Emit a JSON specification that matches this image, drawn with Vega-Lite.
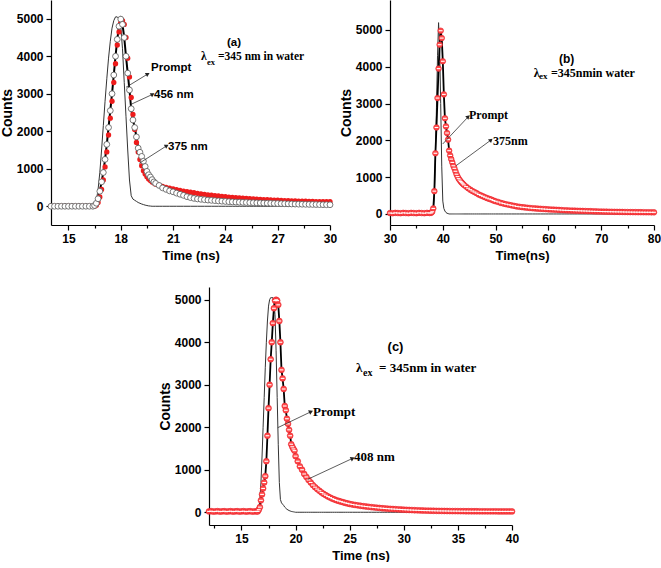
{
  "$schema": "https://vega.github.io/schema/vega-lite/v6.json",
  "background": "white",
  "padding": {"left": 0, "top": 0, "right": 0, "bottom": 0},
  "spacing": 25,
  "config": {
    "view": {"stroke": null},
    "font": "Liberation Sans",
    "axis": {
      "labelFont": "Liberation Sans", "labelFontSize": 12, "labelFontWeight": "bold", "labelColor": "black",
      "titleFont": "Liberation Sans", "titleFontSize": 13, "titleFontWeight": "bold", "titleColor": "black",
      "domainColor": "black", "domainWidth": 1.2, "tickColor": "black", "tickWidth": 1.2,
      "grid": false, "labelFlush": false, "labelOverlap": false, "labelPadding": 3, "titlePadding": 5, "format": "d"
    },
    "axisY": {"titleFontSize": 14, "titlePadding": 2}
  },
  "datasets": {
    "a": [
      {"t":14.0,"prompt":0,"nm456":0,"nm375":0},{"t":14.2,"prompt":0,"nm456":0,"nm375":0},{"t":14.4,"prompt":0,"nm456":0,"nm375":0},
      {"t":14.6,"prompt":0,"nm456":0,"nm375":0},{"t":14.8,"prompt":0,"nm456":0,"nm375":0},{"t":15.0,"prompt":0,"nm456":0,"nm375":0},
      {"t":15.2,"prompt":0,"nm456":0,"nm375":0},{"t":15.4,"prompt":0,"nm456":0,"nm375":0},{"t":15.6,"prompt":0,"nm456":0,"nm375":0},
      {"t":15.8,"prompt":0,"nm456":0,"nm375":0},{"t":16.0,"prompt":0,"nm456":0,"nm375":0},{"t":16.2,"prompt":0,"nm456":0,"nm375":0},
      {"t":16.4,"prompt":0,"nm456":0,"nm375":0},{"t":16.5,"prompt":30,"nm456":20,"nm375":0},{"t":16.6,"prompt":150,"nm456":80,"nm375":30},
      {"t":16.7,"prompt":450,"nm456":200,"nm375":100},{"t":16.8,"prompt":900,"nm456":400,"nm375":250},{"t":16.9,"prompt":1500,"nm456":650,"nm375":450},
      {"t":17.0,"prompt":2150,"nm456":900,"nm375":700},{"t":17.1,"prompt":2800,"nm456":1250,"nm375":1050},{"t":17.2,"prompt":3400,"nm456":1650,"nm375":1450},
      {"t":17.3,"prompt":3950,"nm456":2100,"nm375":1900},{"t":17.4,"prompt":4400,"nm456":2550,"nm375":2350},{"t":17.5,"prompt":4750,"nm456":3000,"nm375":2800},
      {"t":17.6,"prompt":4950,"nm456":3500,"nm375":3300},{"t":17.7,"prompt":5050,"nm456":4000,"nm375":3800},{"t":17.8,"prompt":5050,"nm456":4450,"nm375":4300},
      {"t":17.9,"prompt":5000,"nm456":4800,"nm375":4650},{"t":18.0,"prompt":4800,"nm456":4990,"nm375":4900},{"t":18.1,"prompt":4200,"nm456":4850,"nm375":4950},
      {"t":18.2,"prompt":3300,"nm456":4500,"nm375":4850},{"t":18.3,"prompt":2400,"nm456":4000,"nm375":4500},{"t":18.4,"prompt":1500,"nm456":3550,"nm375":3950},
      {"t":18.5,"prompt":700,"nm456":3100,"nm375":3450},{"t":18.6,"prompt":280,"nm456":2600,"nm375":2900},{"t":18.7,"prompt":190,"nm456":2300,"nm375":2450},
      {"t":18.8,"prompt":160,"nm456":2100,"nm375":2050},{"t":18.9,"prompt":130,"nm456":1850,"nm375":1700},{"t":19.0,"prompt":100,"nm456":1550,"nm375":1450},
      {"t":19.1,"prompt":80,"nm456":1440,"nm375":1250},{"t":19.2,"prompt":60,"nm456":1330,"nm375":1080},{"t":19.3,"prompt":45,"nm456":1200,"nm375":950},
      {"t":19.4,"prompt":30,"nm456":1060,"nm375":860},{"t":19.5,"prompt":20,"nm456":930,"nm375":790},{"t":19.6,"prompt":10,"nm456":840,"nm375":730},
      {"t":19.7,"prompt":5,"nm456":780,"nm375":690},{"t":19.8,"prompt":0,"nm456":710,"nm375":650},{"t":19.9,"prompt":0,"nm456":650,"nm375":620},
      {"t":20.0,"prompt":0,"nm456":610,"nm375":590},{"t":20.2,"prompt":0,"nm456":555,"nm375":560},{"t":20.4,"prompt":0,"nm456":490,"nm375":530},
      {"t":20.6,"prompt":0,"nm456":450,"nm375":505},{"t":20.8,"prompt":0,"nm456":410,"nm375":480},{"t":21.0,"prompt":0,"nm456":385,"nm375":460},
      {"t":21.2,"prompt":0,"nm456":350,"nm375":440},{"t":21.4,"prompt":0,"nm456":320,"nm375":420},{"t":21.6,"prompt":0,"nm456":290,"nm375":405},
      {"t":21.8,"prompt":0,"nm456":255,"nm375":390},{"t":22.0,"prompt":0,"nm456":230,"nm375":375},{"t":22.2,"prompt":0,"nm456":210,"nm375":360},
      {"t":22.4,"prompt":0,"nm456":195,"nm375":345},{"t":22.6,"prompt":0,"nm456":185,"nm375":330},{"t":22.8,"prompt":0,"nm456":175,"nm375":318},
      {"t":23.0,"prompt":0,"nm456":165,"nm375":305},{"t":23.2,"prompt":0,"nm456":158,"nm375":295},{"t":23.4,"prompt":0,"nm456":150,"nm375":285},
      {"t":23.6,"prompt":0,"nm456":142,"nm375":275},{"t":23.8,"prompt":0,"nm456":135,"nm375":265},{"t":24.0,"prompt":0,"nm456":128,"nm375":255},
      {"t":24.2,"prompt":0,"nm456":122,"nm375":246},{"t":24.4,"prompt":0,"nm456":117,"nm375":238},{"t":24.6,"prompt":0,"nm456":112,"nm375":230},
      {"t":24.8,"prompt":0,"nm456":108,"nm375":222},{"t":25.0,"prompt":0,"nm456":104,"nm375":215},{"t":25.2,"prompt":0,"nm456":100,"nm375":208},
      {"t":25.4,"prompt":0,"nm456":97,"nm375":201},{"t":25.6,"prompt":0,"nm456":94,"nm375":195},{"t":25.8,"prompt":0,"nm456":91,"nm375":189},
      {"t":26.0,"prompt":0,"nm456":88,"nm375":183},{"t":26.2,"prompt":0,"nm456":85,"nm375":178},{"t":26.4,"prompt":0,"nm456":82,"nm375":173},
      {"t":26.6,"prompt":0,"nm456":79,"nm375":168},{"t":26.8,"prompt":0,"nm456":76,"nm375":164},{"t":27.0,"prompt":0,"nm456":73,"nm375":160},
      {"t":27.2,"prompt":0,"nm456":70,"nm375":156},{"t":27.4,"prompt":0,"nm456":67,"nm375":152},{"t":27.6,"prompt":0,"nm456":64,"nm375":148},
      {"t":27.8,"prompt":0,"nm456":61,"nm375":145},{"t":28.0,"prompt":0,"nm456":58,"nm375":142},{"t":28.2,"prompt":0,"nm456":56,"nm375":139},
      {"t":28.4,"prompt":0,"nm456":54,"nm375":136},{"t":28.6,"prompt":0,"nm456":52,"nm375":133},{"t":28.8,"prompt":0,"nm456":50,"nm375":130},
      {"t":29.0,"prompt":0,"nm456":48,"nm375":128},{"t":29.2,"prompt":0,"nm456":46,"nm375":126},{"t":29.4,"prompt":0,"nm456":44,"nm375":124},
      {"t":29.6,"prompt":0,"nm456":42,"nm375":122},{"t":29.8,"prompt":0,"nm456":41,"nm375":121},{"t":30.0,"prompt":0,"nm456":40,"nm375":120}
    ],
    "b": [
      {"t":30.0,"prompt":0,"nm375":25},{"t":30.5,"prompt":0,"nm375":20},{"t":31.0,"prompt":0,"nm375":30},{"t":31.5,"prompt":0,"nm375":25},
      {"t":32.0,"prompt":0,"nm375":20},{"t":32.5,"prompt":0,"nm375":30},{"t":33.0,"prompt":0,"nm375":25},{"t":33.5,"prompt":0,"nm375":20},
      {"t":34.0,"prompt":0,"nm375":30},{"t":34.5,"prompt":0,"nm375":25},{"t":35.0,"prompt":0,"nm375":20},{"t":35.5,"prompt":0,"nm375":30},
      {"t":36.0,"prompt":0,"nm375":25},{"t":36.5,"prompt":0,"nm375":20},{"t":37.0,"prompt":0,"nm375":30},{"t":37.5,"prompt":0,"nm375":25},
      {"t":37.8,"prompt":0,"nm375":30},{"t":38.0,"prompt":10,"nm375":60},{"t":38.2,"prompt":60,"nm375":150},{"t":38.4,"prompt":500,"nm375":620},
      {"t":38.6,"prompt":1600,"nm375":1650},{"t":38.8,"prompt":2900,"nm375":2350},{"t":39.0,"prompt":4300,"nm375":3150},{"t":39.2,"prompt":5200,"nm375":3950},
      {"t":39.4,"prompt":4500,"nm375":4600},{"t":39.6,"prompt":3000,"nm375":4980},{"t":39.8,"prompt":1300,"nm375":4780},{"t":40.0,"prompt":350,"nm375":4150},
      {"t":40.2,"prompt":150,"nm375":3250},{"t":40.4,"prompt":80,"nm375":2600},{"t":40.6,"prompt":40,"nm375":2380},{"t":40.8,"prompt":20,"nm375":2200},
      {"t":41.0,"prompt":10,"nm375":2020},{"t":41.2,"prompt":0,"nm375":1720},{"t":41.4,"prompt":0,"nm375":1590},{"t":41.6,"prompt":0,"nm375":1490},
      {"t":41.8,"prompt":0,"nm375":1400},{"t":42.0,"prompt":0,"nm375":1310},{"t":42.2,"prompt":0,"nm375":1240},{"t":42.4,"prompt":0,"nm375":1160},
      {"t":42.6,"prompt":0,"nm375":1080},{"t":42.8,"prompt":0,"nm375":1015},{"t":43.0,"prompt":0,"nm375":960},{"t":43.2,"prompt":0,"nm375":920},
      {"t":43.4,"prompt":0,"nm375":880},{"t":43.6,"prompt":0,"nm375":850},{"t":43.8,"prompt":0,"nm375":820},{"t":44.0,"prompt":0,"nm375":790},
      {"t":44.4,"prompt":0,"nm375":745},{"t":44.8,"prompt":0,"nm375":700},{"t":45.2,"prompt":0,"nm375":660},{"t":45.6,"prompt":0,"nm375":625},
      {"t":46.0,"prompt":0,"nm375":595},{"t":46.4,"prompt":0,"nm375":565},{"t":46.8,"prompt":0,"nm375":530},{"t":47.2,"prompt":0,"nm375":505},
      {"t":47.6,"prompt":0,"nm375":480},{"t":48.0,"prompt":0,"nm375":455},{"t":48.4,"prompt":0,"nm375":430},{"t":48.8,"prompt":0,"nm375":410},
      {"t":49.2,"prompt":0,"nm375":390},{"t":49.6,"prompt":0,"nm375":365},{"t":50.0,"prompt":0,"nm375":345},{"t":50.5,"prompt":0,"nm375":325},
      {"t":51.0,"prompt":0,"nm375":300},{"t":51.5,"prompt":0,"nm375":282},{"t":52.0,"prompt":0,"nm375":265},{"t":52.5,"prompt":0,"nm375":250},
      {"t":53.0,"prompt":0,"nm375":235},{"t":53.5,"prompt":0,"nm375":220},{"t":54.0,"prompt":0,"nm375":205},{"t":54.5,"prompt":0,"nm375":195},
      {"t":55.0,"prompt":0,"nm375":185},{"t":55.5,"prompt":0,"nm375":178},{"t":56.0,"prompt":0,"nm375":170},{"t":56.5,"prompt":0,"nm375":162},
      {"t":57.0,"prompt":0,"nm375":155},{"t":57.5,"prompt":0,"nm375":150},{"t":58.0,"prompt":0,"nm375":145},{"t":58.5,"prompt":0,"nm375":140},
      {"t":59.0,"prompt":0,"nm375":135},{"t":59.5,"prompt":0,"nm375":130},{"t":60.0,"prompt":0,"nm375":125},{"t":60.5,"prompt":0,"nm375":121},
      {"t":61.0,"prompt":0,"nm375":118},{"t":61.5,"prompt":0,"nm375":114},{"t":62.0,"prompt":0,"nm375":110},{"t":62.5,"prompt":0,"nm375":105},
      {"t":63.0,"prompt":0,"nm375":100},{"t":63.5,"prompt":0,"nm375":98},{"t":64.0,"prompt":0,"nm375":95},{"t":64.5,"prompt":0,"nm375":92},
      {"t":65.0,"prompt":0,"nm375":90},{"t":65.5,"prompt":0,"nm375":87},{"t":66.0,"prompt":0,"nm375":85},{"t":66.5,"prompt":0,"nm375":82},
      {"t":67.0,"prompt":0,"nm375":80},{"t":67.5,"prompt":0,"nm375":77},{"t":68.0,"prompt":0,"nm375":75},{"t":68.5,"prompt":0,"nm375":72},
      {"t":69.0,"prompt":0,"nm375":70},{"t":69.5,"prompt":0,"nm375":68},{"t":70.0,"prompt":0,"nm375":66},{"t":70.5,"prompt":0,"nm375":64},
      {"t":71.0,"prompt":0,"nm375":63},{"t":71.5,"prompt":0,"nm375":61},{"t":72.0,"prompt":0,"nm375":60},{"t":72.5,"prompt":0,"nm375":58},
      {"t":73.0,"prompt":0,"nm375":57},{"t":73.5,"prompt":0,"nm375":56},{"t":74.0,"prompt":0,"nm375":55},{"t":74.5,"prompt":0,"nm375":53},
      {"t":75.0,"prompt":0,"nm375":52},{"t":75.5,"prompt":0,"nm375":51},{"t":76.0,"prompt":0,"nm375":50},{"t":76.5,"prompt":0,"nm375":49},
      {"t":77.0,"prompt":0,"nm375":48},{"t":77.5,"prompt":0,"nm375":48},{"t":78.0,"prompt":0,"nm375":47},{"t":78.5,"prompt":0,"nm375":46},
      {"t":79.0,"prompt":0,"nm375":46},{"t":79.5,"prompt":0,"nm375":45},{"t":80.0,"prompt":0,"nm375":45}
    ],
    "c": [
      {"t":12.0,"prompt":0,"nm408":20},{"t":12.2,"prompt":0,"nm408":25},{"t":12.4,"prompt":0,"nm408":15},{"t":12.6,"prompt":0,"nm408":20},
      {"t":12.8,"prompt":0,"nm408":25},{"t":13.0,"prompt":0,"nm408":15},{"t":13.2,"prompt":0,"nm408":20},{"t":13.4,"prompt":0,"nm408":25},
      {"t":13.6,"prompt":0,"nm408":15},{"t":13.8,"prompt":0,"nm408":20},{"t":14.0,"prompt":0,"nm408":25},{"t":14.2,"prompt":0,"nm408":15},
      {"t":14.4,"prompt":0,"nm408":20},{"t":14.6,"prompt":0,"nm408":25},{"t":14.8,"prompt":0,"nm408":15},{"t":15.0,"prompt":0,"nm408":20},
      {"t":15.2,"prompt":0,"nm408":25},{"t":15.4,"prompt":0,"nm408":15},{"t":15.6,"prompt":0,"nm408":20},{"t":15.8,"prompt":0,"nm408":25},
      {"t":16.0,"prompt":0,"nm408":15},{"t":16.2,"prompt":0,"nm408":20},{"t":16.4,"prompt":0,"nm408":20},
      {"t":16.5,"prompt":0,"nm408":20},{"t":16.6,"prompt":80,"nm408":60},{"t":16.7,"prompt":300,"nm408":120},{"t":16.8,"prompt":700,"nm408":280},
      {"t":16.9,"prompt":1300,"nm408":420},{"t":17.0,"prompt":2000,"nm408":560},{"t":17.1,"prompt":2700,"nm408":700},{"t":17.2,"prompt":3400,"nm408":850},
      {"t":17.3,"prompt":4000,"nm408":1200},{"t":17.4,"prompt":4500,"nm408":1800},{"t":17.5,"prompt":4850,"nm408":2450},{"t":17.6,"prompt":5000,"nm408":3000},
      {"t":17.7,"prompt":5050,"nm408":3600},{"t":17.8,"prompt":5050,"nm408":4000},{"t":17.9,"prompt":5050,"nm408":4450},{"t":18.0,"prompt":4950,"nm408":4800},
      {"t":18.1,"prompt":4650,"nm408":4980},{"t":18.2,"prompt":3800,"nm408":5000},{"t":18.3,"prompt":2700,"nm408":4980},{"t":18.4,"prompt":1600,"nm408":4880},
      {"t":18.5,"prompt":700,"nm408":4500},{"t":18.6,"prompt":300,"nm408":4000},{"t":18.7,"prompt":220,"nm408":3350},{"t":18.8,"prompt":190,"nm408":3150},
      {"t":18.9,"prompt":160,"nm408":2900},{"t":19.0,"prompt":120,"nm408":2500},{"t":19.1,"prompt":95,"nm408":2400},{"t":19.2,"prompt":70,"nm408":2200},
      {"t":19.3,"prompt":55,"nm408":2080},{"t":19.4,"prompt":40,"nm408":1940},{"t":19.5,"prompt":30,"nm408":1800},{"t":19.6,"prompt":20,"nm408":1600},
      {"t":19.7,"prompt":15,"nm408":1540},{"t":19.8,"prompt":10,"nm408":1490},{"t":19.9,"prompt":5,"nm408":1450},{"t":20.0,"prompt":0,"nm408":1320},
      {"t":20.2,"prompt":0,"nm408":1200},{"t":20.4,"prompt":0,"nm408":1080},{"t":20.6,"prompt":0,"nm408":1000},{"t":20.8,"prompt":0,"nm408":900},
      {"t":21.0,"prompt":0,"nm408":830},{"t":21.2,"prompt":0,"nm408":760},{"t":21.4,"prompt":0,"nm408":700},{"t":21.6,"prompt":0,"nm408":640},
      {"t":21.8,"prompt":0,"nm408":590},{"t":22.0,"prompt":0,"nm408":545},{"t":22.2,"prompt":0,"nm408":505},{"t":22.4,"prompt":0,"nm408":465},
      {"t":22.6,"prompt":0,"nm408":430},{"t":22.8,"prompt":0,"nm408":400},{"t":23.0,"prompt":0,"nm408":370},{"t":23.2,"prompt":0,"nm408":345},
      {"t":23.4,"prompt":0,"nm408":320},{"t":23.6,"prompt":0,"nm408":300},{"t":23.8,"prompt":0,"nm408":280},{"t":24.0,"prompt":0,"nm408":265},
      {"t":24.2,"prompt":0,"nm408":250},{"t":24.4,"prompt":0,"nm408":235},{"t":24.6,"prompt":0,"nm408":220},{"t":24.8,"prompt":0,"nm408":208},
      {"t":25.0,"prompt":0,"nm408":195},{"t":25.25,"prompt":0,"nm408":183},{"t":25.5,"prompt":0,"nm408":172},{"t":25.75,"prompt":0,"nm408":162},
      {"t":26.0,"prompt":0,"nm408":152},{"t":26.25,"prompt":0,"nm408":143},{"t":26.5,"prompt":0,"nm408":135},{"t":26.75,"prompt":0,"nm408":128},
      {"t":27.0,"prompt":0,"nm408":120},{"t":27.25,"prompt":0,"nm408":113},{"t":27.5,"prompt":0,"nm408":107},{"t":27.75,"prompt":0,"nm408":101},
      {"t":28.0,"prompt":0,"nm408":95},{"t":28.25,"prompt":0,"nm408":90},{"t":28.5,"prompt":0,"nm408":85},{"t":28.75,"prompt":0,"nm408":80},
      {"t":29.0,"prompt":0,"nm408":76},{"t":29.25,"prompt":0,"nm408":72},{"t":29.5,"prompt":0,"nm408":68},{"t":29.75,"prompt":0,"nm408":64},
      {"t":30.0,"prompt":0,"nm408":60},{"t":30.25,"prompt":0,"nm408":57},{"t":30.5,"prompt":0,"nm408":54},{"t":30.75,"prompt":0,"nm408":51},
      {"t":31.0,"prompt":0,"nm408":48},{"t":31.25,"prompt":0,"nm408":46},{"t":31.5,"prompt":0,"nm408":43},{"t":31.75,"prompt":0,"nm408":41},
      {"t":32.0,"prompt":0,"nm408":39},{"t":32.25,"prompt":0,"nm408":38},{"t":32.5,"prompt":0,"nm408":36},{"t":32.75,"prompt":0,"nm408":35},
      {"t":33.0,"prompt":0,"nm408":33},{"t":33.25,"prompt":0,"nm408":32},{"t":33.5,"prompt":0,"nm408":31},{"t":33.75,"prompt":0,"nm408":30},
      {"t":34.0,"prompt":0,"nm408":29},{"t":34.25,"prompt":0,"nm408":28},{"t":34.5,"prompt":0,"nm408":27},{"t":34.75,"prompt":0,"nm408":27},
      {"t":35.0,"prompt":0,"nm408":26},{"t":35.25,"prompt":0,"nm408":25},{"t":35.5,"prompt":0,"nm408":25},{"t":35.75,"prompt":0,"nm408":24},
      {"t":36.0,"prompt":0,"nm408":24},{"t":36.25,"prompt":0,"nm408":23},{"t":36.5,"prompt":0,"nm408":23},{"t":36.75,"prompt":0,"nm408":23},
      {"t":37.0,"prompt":0,"nm408":22},{"t":37.25,"prompt":0,"nm408":22},{"t":37.5,"prompt":0,"nm408":22},{"t":37.75,"prompt":0,"nm408":21},
      {"t":38.0,"prompt":0,"nm408":21},{"t":38.25,"prompt":0,"nm408":21},{"t":38.5,"prompt":0,"nm408":21},{"t":38.75,"prompt":0,"nm408":20},
      {"t":39.0,"prompt":0,"nm408":20},{"t":39.25,"prompt":0,"nm408":20},{"t":39.5,"prompt":0,"nm408":20},{"t":39.75,"prompt":0,"nm408":20},
      {"t":40.0,"prompt":0,"nm408":20}
    ]
  },
  "vconcat": [
    {
      "hconcat": [
        {
          "width": 279, "height": 225,
          "data": {"name": "a"},
          "encoding": {
            "x": {"field": "t", "type": "quantitative", "title": "Time (ns)",
              "scale": {"domain": [14, 30], "nice": false, "zero": false},
              "axis": {"values": [15, 16.5, 18, 19.5, 21, 22.5, 24, 25.5, 27, 28.5, 30],
                "labelExpr": "datum.value % 3 == 0 ? datum.label : ''",
                "tickSize": {"condition": {"test": "datum.value % 3 != 0", "value": 3}, "value": 5}}}
          },
          "layer": [
            {"mark": {"type": "line", "color": "#333", "strokeWidth": 1},
              "encoding": {"y": {"field": "prompt", "type": "quantitative", "title": "Counts",
                "scale": {"domain": [-500, 5500], "nice": false, "zero": false},
                "axis": {"values": [0, 500, 1000, 1500, 2000, 2500, 3000, 3500, 4000, 4500, 5000],
                  "labelExpr": "datum.value % 1000 == 0 ? datum.label : ''",
                  "tickSize": {"condition": {"test": "datum.value % 1000 != 0", "value": 3}, "value": 5}}}}},
            {"mark": {"type": "line", "color": "black", "strokeWidth": 2},
              "encoding": {"y": {"field": "nm456", "type": "quantitative"}}},
            {"mark": {"type": "point", "filled": true, "color": "#ee1c1c", "size": 28, "opacity": 1},
              "encoding": {"y": {"field": "nm375", "type": "quantitative"}}},
            {"mark": {"type": "point", "filled": true, "fill": "white", "stroke": "#555", "strokeWidth": 0.8, "size": 34, "opacity": 1},
              "encoding": {"y": {"field": "nm456", "type": "quantitative"}}},
            {"data": {"values": [
                {"t": 18.30, "v": 3172, "t2": 19.55, "v2": 3527},
                {"t": 18.59, "v": 2718, "t2": 19.83, "v2": 2985},
                {"t": 19.06, "v": 1145, "t2": 20.64, "v2": 1614}]},
              "layer": [
                {"mark": {"type": "rule", "color": "#333", "strokeWidth": 0.8},
                  "encoding": {"x": {"field": "t", "type": "quantitative"}, "x2": {"field": "t2"},
                    "y": {"field": "v", "type": "quantitative"}, "y2": {"field": "v2"}}},
                {"mark": {"type": "point", "shape": "triangle-right", "angle": -30, "filled": true, "color": "#222", "size": 22, "opacity": 1},
                  "encoding": {"x": {"field": "t2", "type": "quantitative"}, "y": {"field": "v2", "type": "quantitative"}}}
              ]},
            {"data": {"values": [
                {"t": 24.09, "v": 4361, "label": "(a)"},
                {"t": 19.74, "v": 3695, "label": "Prompt"},
                {"t": 19.91, "v": 2967, "label": "456 nm"},
                {"t": 20.71, "v": 1572, "label": "375 nm"}]},
              "mark": {"type": "text", "font": "Liberation Sans", "fontWeight": "bold", "fontSize": 11.5, "align": "left", "baseline": "middle", "color": "black"},
              "encoding": {"x": {"field": "t", "type": "quantitative"}, "y": {"field": "v", "type": "quantitative"}, "text": {"field": "label"}}},
            {"data": {"values": [
                {"t": 22.60, "v": 3980, "label": "λ"},
                {"t": 23.58, "v": 3980, "label": "=345 nm in water"}]},
              "mark": {"type": "text", "font": "Liberation Serif", "fontWeight": "bold", "fontSize": 11.5, "align": "left", "baseline": "middle", "color": "black"},
              "encoding": {"x": {"field": "t", "type": "quantitative"}, "y": {"field": "v", "type": "quantitative"}, "text": {"field": "label"}}},
            {"data": {"values": [{"t": 22.95, "v": 3855, "label": "ex"}]},
              "mark": {"type": "text", "font": "Liberation Serif", "fontWeight": "bold", "fontSize": 8.5, "align": "left", "baseline": "middle", "color": "black"},
              "encoding": {"x": {"field": "t", "type": "quantitative"}, "y": {"field": "v", "type": "quantitative"}, "text": {"field": "label"}}}
          ]
        },
        {
          "width": 264, "height": 225,
          "data": {"name": "b"},
          "encoding": {
            "x": {"field": "t", "type": "quantitative", "title": "Time(ns)",
              "scale": {"domain": [30, 80], "nice": false, "zero": false},
              "axis": {"values": [30, 35, 40, 45, 50, 55, 60, 65, 70, 75, 80],
                "labelExpr": "datum.value % 10 == 0 ? datum.label : ''",
                "tickSize": {"condition": {"test": "datum.value % 10 != 0", "value": 3}, "value": 5}}}
          },
          "layer": [
            {"mark": {"type": "line", "color": "#333", "strokeWidth": 1},
              "encoding": {"y": {"field": "prompt", "type": "quantitative", "title": "Counts",
                "scale": {"domain": [-300, 5815], "nice": false, "zero": false},
                "axis": {"values": [0, 500, 1000, 1500, 2000, 2500, 3000, 3500, 4000, 4500, 5000, 5500],
                  "labelExpr": "datum.value % 1000 == 0 ? datum.label : ''",
                  "tickSize": {"condition": {"test": "datum.value % 1000 != 0", "value": 3}, "value": 5}}}}},
            {"mark": {"type": "line", "color": "black", "strokeWidth": 1.8},
              "encoding": {"y": {"field": "nm375", "type": "quantitative"}}},
            {"mark": {"type": "point", "filled": true, "fill": "#ff4a4a", "stroke": "#e8202a", "strokeWidth": 0.6, "size": 32, "opacity": 1},
              "encoding": {"y": {"field": "nm375", "type": "quantitative"}}},
            {"mark": {"type": "point", "shape": "stroke", "filled": false, "color": "white", "strokeWidth": 1.1, "size": 14, "opacity": 1},
              "encoding": {"y": {"field": "nm375", "type": "quantitative"}}},
            {"data": {"values": [
                {"t": 39.98, "v": 1901, "t2": 44.83, "v2": 2643},
                {"t": 42.50, "v": 1311, "t2": 49.13, "v2": 2010}]},
              "layer": [
                {"mark": {"type": "rule", "color": "#333", "strokeWidth": 0.8},
                  "encoding": {"x": {"field": "t", "type": "quantitative"}, "x2": {"field": "t2"},
                    "y": {"field": "v", "type": "quantitative"}, "y2": {"field": "v2"}}},
                {"mark": {"type": "point", "shape": "triangle-right", "angle": -42, "filled": true, "color": "#222", "size": 22, "opacity": 1},
                  "encoding": {"x": {"field": "t2", "type": "quantitative"}, "y": {"field": "v2", "type": "quantitative"}}}
              ]},
            {"data": {"values": [{"t": 62.0, "v": 4203, "label": "(b)"}]},
              "mark": {"type": "text", "font": "Liberation Sans", "fontWeight": "bold", "fontSize": 12, "align": "left", "baseline": "middle", "color": "black"},
              "encoding": {"x": {"field": "t", "type": "quantitative"}, "y": {"field": "v", "type": "quantitative"}, "text": {"field": "label"}}},
            {"data": {"values": [
                {"t": 57.22, "v": 3839, "label": "λ"},
                {"t": 60.49, "v": 3839, "label": "=345nmin water"},
                {"t": 44.96, "v": 2689, "label": "Prompt"},
                {"t": 49.51, "v": 1991, "label": "375nm"}]},
              "mark": {"type": "text", "font": "Liberation Serif", "fontWeight": "bold", "fontSize": 12, "align": "left", "baseline": "middle", "color": "black"},
              "encoding": {"x": {"field": "t", "type": "quantitative"}, "y": {"field": "v", "type": "quantitative"}, "text": {"field": "label"}}},
            {"data": {"values": [{"t": 58.22, "v": 3749, "label": "ex"}]},
              "mark": {"type": "text", "font": "Liberation Serif", "fontWeight": "bold", "fontSize": 9, "align": "left", "baseline": "middle", "color": "black"},
              "encoding": {"x": {"field": "t", "type": "quantitative"}, "y": {"field": "v", "type": "quantitative"}, "text": {"field": "label"}}}
          ]
        }
      ],
      "spacing": 60,
      "bounds": "flush"
    },
    {
      "hconcat": [
        {"width": 138, "height": 238, "data": {"values": []}, "mark": "point"},
        {
          "width": 303, "height": 238,
          "data": {"name": "c"},
          "encoding": {
            "x": {"field": "t", "type": "quantitative", "title": "Time (ns)",
              "scale": {"domain": [12, 40], "nice": false, "zero": false},
              "axis": {"values": [12.5, 15, 17.5, 20, 22.5, 25, 27.5, 30, 32.5, 35, 37.5, 40],
                "labelExpr": "datum.value % 5 == 0 ? datum.label : ''",
                "tickSize": {"condition": {"test": "datum.value % 5 != 0", "value": 3}, "value": 5}}}
          },
          "layer": [
            {"mark": {"type": "line", "color": "#333", "strokeWidth": 1},
              "encoding": {"y": {"field": "prompt", "type": "quantitative", "title": "Counts",
                "scale": {"domain": [-300, 5300], "nice": false, "zero": false},
                "axis": {"values": [0, 500, 1000, 1500, 2000, 2500, 3000, 3500, 4000, 4500, 5000],
                  "labelExpr": "datum.value % 1000 == 0 ? datum.label : ''",
                  "tickSize": {"condition": {"test": "datum.value % 1000 != 0", "value": 3}, "value": 5}}}}},
            {"mark": {"type": "line", "color": "black", "strokeWidth": 1.8},
              "encoding": {"y": {"field": "nm408", "type": "quantitative"}}},
            {"mark": {"type": "point", "filled": true, "fill": "#ff4a4a", "stroke": "#e8202a", "strokeWidth": 0.6, "size": 34, "opacity": 1},
              "encoding": {"y": {"field": "nm408", "type": "quantitative"}}},
            {"mark": {"type": "point", "shape": "stroke", "filled": false, "color": "white", "strokeWidth": 1.1, "size": 14, "opacity": 1},
              "encoding": {"y": {"field": "nm408", "type": "quantitative"}}},
            {"data": {"values": [
                {"t": 18.35, "v": 1989, "t2": 21.43, "v2": 2366},
                {"t": 21.12, "v": 775, "t2": 25.28, "v2": 1269}]},
              "layer": [
                {"mark": {"type": "rule", "color": "#333", "strokeWidth": 0.8},
                  "encoding": {"x": {"field": "t", "type": "quantitative"}, "x2": {"field": "t2"},
                    "y": {"field": "v", "type": "quantitative"}, "y2": {"field": "v2"}}},
                {"mark": {"type": "point", "shape": "triangle-right", "angle": -25, "filled": true, "color": "#222", "size": 24, "opacity": 1},
                  "encoding": {"x": {"field": "t2", "type": "quantitative"}, "y": {"field": "v2", "type": "quantitative"}}}
              ]},
            {"data": {"values": [{"t": 28.50, "v": 3895, "label": "(c)"}]},
              "mark": {"type": "text", "font": "Liberation Sans", "fontWeight": "bold", "fontSize": 13, "align": "left", "baseline": "middle", "color": "black"},
              "encoding": {"x": {"field": "t", "type": "quantitative"}, "y": {"field": "v", "type": "quantitative"}, "text": {"field": "label"}}},
            {"data": {"values": [
                {"t": 25.58, "v": 3387, "label": "λ"},
                {"t": 27.71, "v": 3387, "label": "= 345nm in water"},
                {"t": 21.61, "v": 2352, "label": "Prompt"},
                {"t": 25.40, "v": 1293, "label": "408 nm"}]},
              "mark": {"type": "text", "font": "Liberation Serif", "fontWeight": "bold", "fontSize": 13, "align": "left", "baseline": "middle", "color": "black"},
              "encoding": {"x": {"field": "t", "type": "quantitative"}, "y": {"field": "v", "type": "quantitative"}, "text": {"field": "label"}}},
            {"data": {"values": [{"t": 26.23, "v": 3276, "label": "ex"}]},
              "mark": {"type": "text", "font": "Liberation Serif", "fontWeight": "bold", "fontSize": 10, "align": "left", "baseline": "middle", "color": "black"},
              "encoding": {"x": {"field": "t", "type": "quantitative"}, "y": {"field": "v", "type": "quantitative"}, "text": {"field": "label"}}}
          ]
        }
      ],
      "spacing": 20,
      "bounds": "flush"
    }
  ]
}
